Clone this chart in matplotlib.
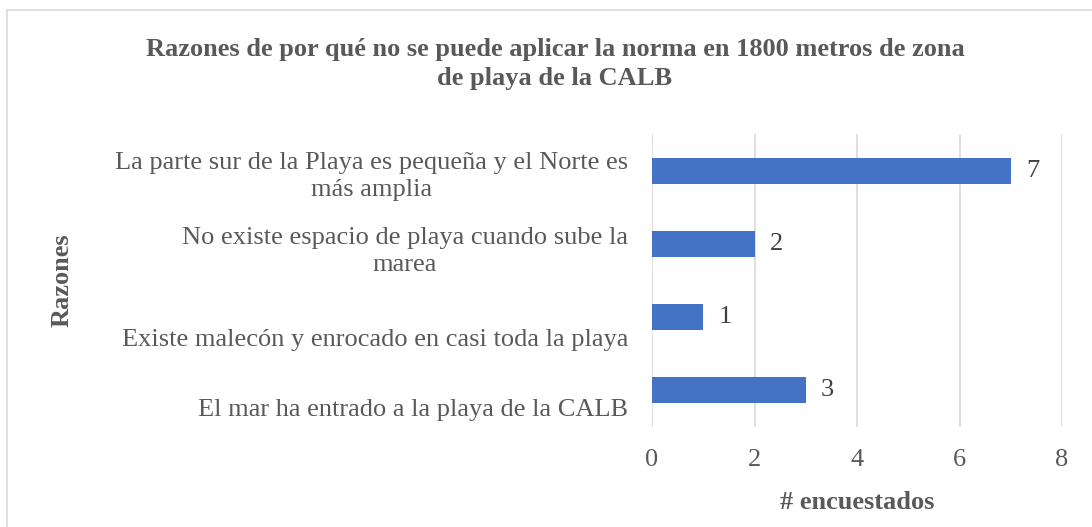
import matplotlib
matplotlib.use("Agg")
import matplotlib.pyplot as plt
from matplotlib.patches import Rectangle
from matplotlib.transforms import ScaledTranslation

categories = [
    "La parte sur de la Playa es pequeña y el Norte es\nmás amplia",
    "No existe espacio de playa cuando sube la\nmarea",
    "Existe malecón y enrocado en casi toda la playa",
    "El mar ha entrado a la playa de la CALB",
]
values = [7, 2, 1, 3]
xticks = [0, 2, 4, 6, 8]
title = "Razones de por qué no se puede aplicar la norma en 1800 metros de zona\nde playa de la CALB"
xlabel = "# encuestados"
ylabel = "Razones"

plt.rcParams['font.family'] = ['Liberation Serif', 'DejaVu Serif']
TXT = "#595959"
FS = 19

fig = plt.figure(figsize=(10.92, 5.27), dpi=100)
fig.patches.append(Rectangle((7/1092, -0.1), 1.2, (1 - 10/527) + 0.1, transform=fig.transFigure,
                             fill=False, edgecolor="#D9D9D9", linewidth=1.2, zorder=0))

ax = fig.add_axes([652/1092, 1 - 427/527, 410/1092, 293/527])
ypos = list(range(len(categories)))
ax.barh(ypos, values, height=0.355, color="#4472C4", zorder=3)
ax.set_ylim(len(categories) - 0.5, -0.5)
ax.set_xlim(0, 8)
ax.set_xticks(xticks)
ax.set_xticklabels([str(t) for t in xticks], fontsize=FS, color=TXT)
ax.grid(axis='x', color="#D9D9D9", linewidth=1.2, zorder=0)
for s in ax.spines.values():
    s.set_visible(False)
ax.tick_params(axis='both', length=0)
ax.tick_params(axis='x', pad=16)
ax.set_yticks(ypos)
ax.set_yticklabels([])

offsets = [6, 8, 23, 20]
for y, lab, off in zip(ypos, categories, offsets):
    tr = ax.get_yaxis_transform() + ScaledTranslation(-24/100, -off/100, fig.dpi_scale_trans)
    ax.text(0, y, lab, transform=tr, ha='right', va='center', fontsize=FS, color=TXT,
            multialignment='center', linespacing=1.3)

for y, v in zip(ypos, values):
    ax.annotate(str(v), (v, y), xytext=(11, 0), textcoords='offset points',
                va='center', ha='left', fontsize=FS, color="#404040")

ax.set_xlabel(xlabel, fontsize=FS, fontweight='bold', color=TXT, labelpad=14)
fig.text(62/1092, 1 - 280/527, ylabel, rotation=90, fontsize=FS, fontweight='bold',
         color=TXT, ha='center', va='center')
fig.text(555/1092, 1 - 64/527, title, fontsize=FS, fontweight='bold', color=TXT,
         ha='center', va='center', linespacing=1.35)

fig.savefig("out.png", dpi=100)
